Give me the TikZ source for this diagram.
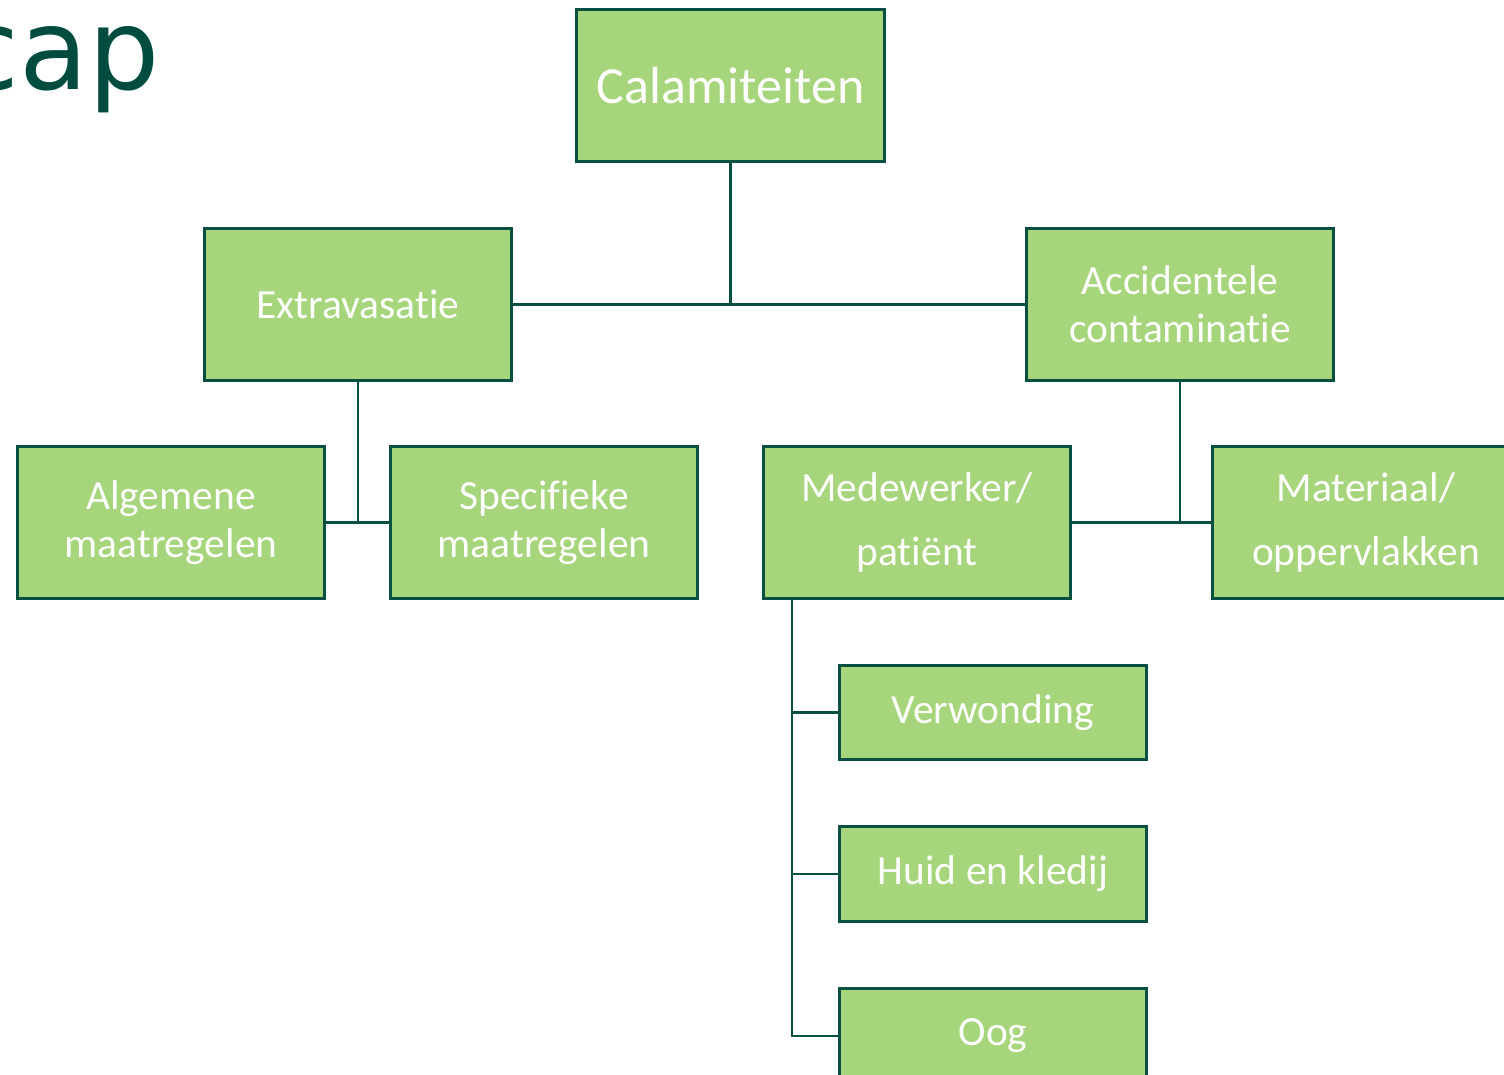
\documentclass[tikz,border=0pt]{standalone}
\usepackage{fontspec}
\setmainfont[Ligatures=NoCommon]{Carlito}
\newfontfamily\titlefont{DejaVu Sans}
\definecolor{boxgreen}{RGB}{166,213,123}
\definecolor{darkgreen}{RGB}{8,80,66}
\definecolor{titlegreen}{RGB}{0,77,64}

\begin{document}
\begin{tikzpicture}[x=0.025cm,y=-0.025cm,
    blok/.style={draw=darkgreen,line width=2pt,fill=boxgreen,text=white,
      minimum width=7.68cm,minimum height=3.8cm,align=center,inner sep=0pt,
      font=\fontsize{29.5}{34}\selectfont},
    ruim/.style={blok,font=\fontsize{29.5}{45}\selectfont},
    klein/.style={blok,minimum height=2.36cm},
    lijn/.style={darkgreen,line width=1.8pt}]
    \useasboundingbox (0,0) rectangle (1504,1075);
    \clip (0,0) rectangle (1504,1075);
    % title
    \node[anchor=base east,inner sep=0pt,text=titlegreen,font=\titlefont\fontsize{80}{90}\selectfont] (titel) at (160,90) {cap};
    % boxes
    \node[blok,font=\fontsize{37}{44}\selectfont] (cal) at (730.5,85.5) {Calamiteiten};
    \node[blok] (ext) at (358,304.5) {Extravasatie};
    \node[blok] (acc) at (1180,304.5) {Accidentele\\contaminatie};
    \node[blok] (alg) at (171,522.5) {Algemene\\maatregelen};
    \node[blok] (spe) at (544,522.5) {Specifieke\\maatregelen};
    \node[ruim] (med) at (917,522.5) {Medewerker/\\patiënt};
    \node[ruim] (mat) at (1366,522.5) {Materiaal/\\oppervlakken};
    \node[klein] (ver) at (993,712.5) {Verwonding};
    \node[klein] (hui) at (993,874) {Huid en kledij};
    \node[klein] (oog) at (993,1036) {Oog};
    % lines
    \draw[lijn] (cal.south) -- (cal.south |- ext.east);
    \draw[lijn] (ext.east) -- (acc.west);
    \draw[lijn] (ext.south) -- (ext.south |- alg.east);
    \draw[lijn] (alg.east) -- (spe.west);
    \draw[lijn] (acc.south) -- (acc.south |- med.east);
    \draw[lijn] (med.east) -- (mat.west);
    \coordinate (medvoet) at ([xshift=0.75cm]med.south west);
    \draw[lijn] (medvoet) |- (oog.west);
    \draw[lijn] (medvoet |- ver.west) -- (ver.west);
    \draw[lijn] (medvoet |- hui.west) -- (hui.west);
\end{tikzpicture}
\end{document}
